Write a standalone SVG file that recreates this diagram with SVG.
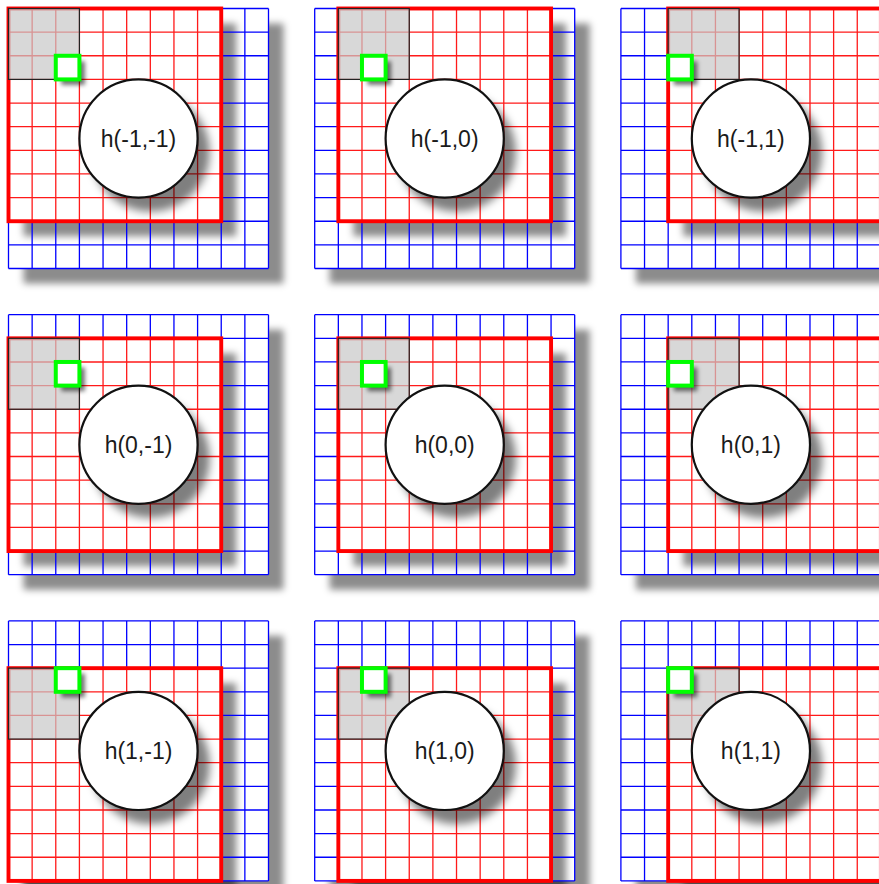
<svg xmlns="http://www.w3.org/2000/svg" xmlns:xlink="http://www.w3.org/1999/xlink" width="879" height="884" viewBox="0 0 879 884">
<style>
.sh{fill:#000;fill-opacity:.45;filter:url(#b)}
.shc{fill:#000;fill-opacity:.5;filter:url(#bc)}
.shs{fill:#000;fill-opacity:.55;filter:url(#bs)}
.bg{fill:#fff}
.bl{fill:none;stroke:#0000ff;stroke-width:1.3}
.rl{fill:none;stroke:#ff1a1a;stroke-width:1.3}
.rb{fill:none;stroke:#ff0000;stroke-width:3.9}
.gr{fill:#c8c8c8;fill-opacity:.7;stroke:#222;stroke-width:1.2}
.gn{fill:#fff;stroke:#00ff00;stroke-width:4}
.ci{fill:#fff;stroke:#111;stroke-width:2.2}
.tx{font-family:"Liberation Sans",Arial,sans-serif;font-size:23px;fill:#1a1a1a;text-anchor:middle}
</style>
<defs>
<filter id="b" x="-50%" y="-50%" width="200%" height="200%"><feGaussianBlur stdDeviation="3.5"/></filter>
<filter id="bc" x="-50%" y="-50%" width="200%" height="200%"><feGaussianBlur stdDeviation="4"/></filter>
<filter id="bs" x="-50%" y="-50%" width="200%" height="200%"><feGaussianBlur stdDeviation="2"/></filter>
<g id="blueLines">
<path class="bl" d="M0 0V260M23.64 0V260M47.27 0V260M70.91 0V260M94.55 0V260M118.18 0V260M141.82 0V260M165.45 0V260M189.09 0V260M212.73 0V260M236.36 0V260M260 0V260M0 0H260M0 23.64H260M0 47.27H260M0 70.91H260M0 94.55H260M0 118.18H260M0 141.82H260M0 165.45H260M0 189.09H260M0 212.73H260M0 236.36H260M0 260H260"/>
</g>
<g id="redSquare">
<rect class="bg" x="0" y="0" width="212.73" height="212.73"/>
<path class="rl" d="M23.64 0V212.73M47.27 0V212.73M70.91 0V212.73M94.55 0V212.73M118.18 0V212.73M141.82 0V212.73M165.45 0V212.73M189.09 0V212.73M0 23.64H212.73M0 47.27H212.73M0 70.91H212.73M0 94.55H212.73M0 118.18H212.73M0 141.82H212.73M0 165.45H212.73M0 189.09H212.73"/>
<rect class="rb" x="0" y="0" width="212.73" height="212.73"/>
</g>
<rect id="grayBox" class="gr" x="0" y="0" width="70.91" height="70.91"/>
</defs>

<g id="h-1-1" transform="translate(8.5,8.5)">
<rect class="sh" x="15" y="15" width="260" height="260"/><rect class="bg" width="260" height="260"/>
<rect class="sh" x="15" y="15" width="212.73" height="212.73"/>
<use xlink:href="#blueLines"/><use xlink:href="#redSquare" x="0" y="0"/><use xlink:href="#grayBox" x="0" y="0"/>
<rect class="shs" x="52.8" y="52.8" width="23.64" height="23.64"/><rect class="gn" x="47.27" y="47.27" width="23.64" height="23.64"/>
<circle class="shc" cx="142" cy="144" r="59.1"/><circle class="ci" cx="130" cy="130" r="59.1"/>
<text class="tx" x="130" y="138.3">h(-1,-1)</text>
</g>

<g id="h-1_0" transform="translate(314.7,8.5)">
<rect class="sh" x="15" y="15" width="260" height="260"/><rect class="bg" width="260" height="260"/>
<rect class="sh" x="38.64" y="15" width="212.73" height="212.73"/>
<use xlink:href="#blueLines"/><use xlink:href="#redSquare" x="23.64" y="0"/><use xlink:href="#grayBox" x="23.64" y="0"/>
<rect class="shs" x="52.8" y="52.8" width="23.64" height="23.64"/><rect class="gn" x="47.27" y="47.27" width="23.64" height="23.64"/>
<circle class="shc" cx="142" cy="144" r="59.1"/><circle class="ci" cx="130" cy="130" r="59.1"/>
<text class="tx" x="130" y="138.3">h(-1,0)</text>
</g>

<g id="h-1_1" transform="translate(620.9,8.5)">
<rect class="sh" x="15" y="15" width="260" height="260"/><rect class="bg" width="260" height="260"/>
<rect class="sh" x="62.27" y="15" width="212.73" height="212.73"/>
<use xlink:href="#blueLines"/><use xlink:href="#redSquare" x="47.27" y="0"/><use xlink:href="#grayBox" x="47.27" y="0"/>
<rect class="shs" x="52.8" y="52.8" width="23.64" height="23.64"/><rect class="gn" x="47.27" y="47.27" width="23.64" height="23.64"/>
<circle class="shc" cx="142" cy="144" r="59.1"/><circle class="ci" cx="130" cy="130" r="59.1"/>
<text class="tx" x="130" y="138.3">h(-1,1)</text>
</g>

<g id="h0_-1" transform="translate(8.5,314.7)">
<rect class="sh" x="15" y="15" width="260" height="260"/><rect class="bg" width="260" height="260"/>
<rect class="sh" x="15" y="38.64" width="212.73" height="212.73"/>
<use xlink:href="#blueLines"/><use xlink:href="#redSquare" x="0" y="23.64"/><use xlink:href="#grayBox" x="0" y="23.64"/>
<rect class="shs" x="52.8" y="52.8" width="23.64" height="23.64"/><rect class="gn" x="47.27" y="47.27" width="23.64" height="23.64"/>
<circle class="shc" cx="142" cy="144" r="59.1"/><circle class="ci" cx="130" cy="130" r="59.1"/>
<text class="tx" x="130" y="138.3">h(0,-1)</text>
</g>

<g id="h0_0" transform="translate(314.7,314.7)">
<rect class="sh" x="15" y="15" width="260" height="260"/><rect class="bg" width="260" height="260"/>
<rect class="sh" x="38.64" y="38.64" width="212.73" height="212.73"/>
<use xlink:href="#blueLines"/><use xlink:href="#redSquare" x="23.64" y="23.64"/><use xlink:href="#grayBox" x="23.64" y="23.64"/>
<rect class="shs" x="52.8" y="52.8" width="23.64" height="23.64"/><rect class="gn" x="47.27" y="47.27" width="23.64" height="23.64"/>
<circle class="shc" cx="142" cy="144" r="59.1"/><circle class="ci" cx="130" cy="130" r="59.1"/>
<text class="tx" x="130" y="138.3">h(0,0)</text>
</g>

<g id="h0_1" transform="translate(620.9,314.7)">
<rect class="sh" x="15" y="15" width="260" height="260"/><rect class="bg" width="260" height="260"/>
<rect class="sh" x="62.27" y="38.64" width="212.73" height="212.73"/>
<use xlink:href="#blueLines"/><use xlink:href="#redSquare" x="47.27" y="23.64"/><use xlink:href="#grayBox" x="47.27" y="23.64"/>
<rect class="shs" x="52.8" y="52.8" width="23.64" height="23.64"/><rect class="gn" x="47.27" y="47.27" width="23.64" height="23.64"/>
<circle class="shc" cx="142" cy="144" r="59.1"/><circle class="ci" cx="130" cy="130" r="59.1"/>
<text class="tx" x="130" y="138.3">h(0,1)</text>
</g>

<g id="h1_-1" transform="translate(8.5,620.9)">
<rect class="sh" x="15" y="15" width="260" height="260"/><rect class="bg" width="260" height="260"/>
<rect class="sh" x="15" y="62.27" width="212.73" height="212.73"/>
<use xlink:href="#blueLines"/><use xlink:href="#redSquare" x="0" y="47.27"/><use xlink:href="#grayBox" x="0" y="47.27"/>
<rect class="shs" x="52.8" y="52.8" width="23.64" height="23.64"/><rect class="gn" x="47.27" y="47.27" width="23.64" height="23.64"/>
<circle class="shc" cx="142" cy="144" r="59.1"/><circle class="ci" cx="130" cy="130" r="59.1"/>
<text class="tx" x="130" y="138.3">h(1,-1)</text>
</g>

<g id="h1_0" transform="translate(314.7,620.9)">
<rect class="sh" x="15" y="15" width="260" height="260"/><rect class="bg" width="260" height="260"/>
<rect class="sh" x="38.64" y="62.27" width="212.73" height="212.73"/>
<use xlink:href="#blueLines"/><use xlink:href="#redSquare" x="23.64" y="47.27"/><use xlink:href="#grayBox" x="23.64" y="47.27"/>
<rect class="shs" x="52.8" y="52.8" width="23.64" height="23.64"/><rect class="gn" x="47.27" y="47.27" width="23.64" height="23.64"/>
<circle class="shc" cx="142" cy="144" r="59.1"/><circle class="ci" cx="130" cy="130" r="59.1"/>
<text class="tx" x="130" y="138.3">h(1,0)</text>
</g>

<g id="h1_1" transform="translate(620.9,620.9)">
<rect class="sh" x="15" y="15" width="260" height="260"/><rect class="bg" width="260" height="260"/>
<rect class="sh" x="62.27" y="62.27" width="212.73" height="212.73"/>
<use xlink:href="#blueLines"/><use xlink:href="#redSquare" x="47.27" y="47.27"/><use xlink:href="#grayBox" x="47.27" y="47.27"/>
<rect class="shs" x="52.8" y="52.8" width="23.64" height="23.64"/><rect class="gn" x="47.27" y="47.27" width="23.64" height="23.64"/>
<circle class="shc" cx="142" cy="144" r="59.1"/><circle class="ci" cx="130" cy="130" r="59.1"/>
<text class="tx" x="130" y="138.3">h(1,1)</text>
</g>
</svg>
